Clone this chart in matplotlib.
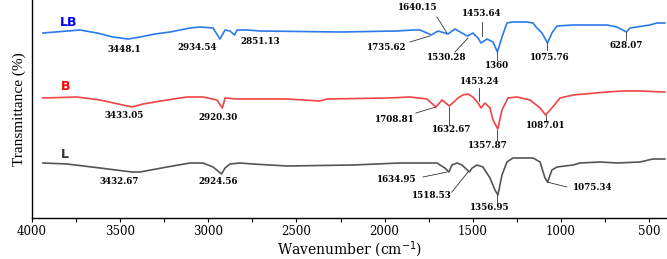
import numpy as np
import matplotlib
matplotlib.use("Agg")
import matplotlib.pyplot as plt

# ── spectra (wavenumber, offset transmittance in a.u.) ─────────────
lb_wn = [3938, 3728, 3631, 3541, 3455, 3387, 3302, 3217, 3104, 3047, 2973, 2934,
         2905, 2877, 2851, 2837, 2780, 2707, 2253, 1930, 1839, 1799, 1760, 1735,
         1697, 1640, 1601, 1561, 1530, 1499, 1470, 1453, 1419, 1385, 1360, 1334,
         1306, 1277, 1192, 1158, 1136, 1107, 1076, 1051, 1022, 931, 739, 682,
         628, 608, 495, 455, 410]
lb_t = [185, 188, 185, 181, 179, 181, 184, 186, 190, 191, 190, 179,
        188, 187, 183, 188, 188, 187, 186, 187, 188, 188, 185, 183,
        187, 184, 189, 185, 182, 185, 180, 175, 179, 176, 166, 181,
        195, 196, 196, 195, 190, 185, 175, 185, 192, 193, 193, 191,
        186, 190, 193, 195, 195]

b_wn = [3938, 3745, 3614, 3433, 3370, 3234, 3121, 3030, 2951, 2920, 2905, 2837,
        2747, 2554, 2367, 2327, 1986, 1856, 1760, 1709, 1674, 1633, 1601, 1584,
        1555, 1527, 1499, 1470, 1453, 1431, 1402, 1385, 1358, 1334, 1300, 1249,
        1175, 1118, 1087, 1051, 1005, 931, 739, 648, 551, 410]
b_t = [120, 121, 118, 111, 114, 118, 121, 121, 118, 110, 120, 119,
       119, 119, 117, 119, 120, 121, 119, 111, 118, 112, 117, 120,
       123, 124, 121, 115, 110, 115, 110, 98, 89, 108, 120, 121,
       118, 110, 103, 110, 120, 123, 126, 127, 127, 126]

l_wn = [3938, 3801, 3614, 3433, 3387, 3234, 3104, 3030, 2973, 2925, 2905, 2877,
        2820, 2747, 2554, 2179, 1913, 1703, 1658, 1635, 1618, 1589, 1561, 1519,
        1503, 1476, 1442, 1402, 1374, 1357, 1334, 1306, 1272, 1158, 1118, 1090,
        1075, 1051, 1022, 931, 892, 778, 682, 551, 478, 410]
l_t = [55, 54, 50, 46, 46, 51, 55, 55, 51, 44, 50, 54,
       55, 54, 52, 53, 55, 55, 50, 46, 53, 55, 53, 46,
       50, 53, 51, 40, 28, 23, 43, 56, 60, 60, 56, 40,
       36, 48, 51, 53, 55, 56, 55, 56, 59, 59]

series = [("LB", lb_wn, lb_t, "#2b7ae8", "#0000ff"),
          ("B", b_wn, b_t, "#f04444", "#ff0000"),
          ("L", l_wn, l_t, "#555555", "#333333")]

# series name label positions (wavenumber, y)
name_pos = {"LB": (3790, 196), "B": (3810, 132), "L": (3815, 63)}

# peak labels: text, text x, text y, leader line (x0, y0, x1, y1) or None
peaks = [
    ("3448.1", 3478, 168, None),
    ("2934.54", 3064, 170, None),
    ("2851.13", 2707, 176, None),
    ("1735.62", 1986, 171, (1856, 176, 1743, 182)),
    ("1640.15", 1811, 210, (1703, 201, 1646, 185)),
    ("1530.28", 1646, 161, (1601, 166, 1527, 180)),
    ("1453.64", 1448, 204, (1448, 196, 1448, 182)),
    ("1360", 1362, 152, (1362, 166, 1362, 158)),
    ("1075.76", 1062, 160, (1079, 175, 1079, 168)),
    ("628.07", 631, 173, (631, 186, 631, 178)),
    ("3433.05", 3478, 103, None),
    ("2920.30", 2945, 101, None),
    ("1708.81", 1941, 98, (1822, 105, 1709, 111)),
    ("1632.67", 1618, 88, (1635, 111, 1635, 93)),
    ("1453.24", 1459, 137, (1465, 130, 1465, 117)),
    ("1357.87", 1414, 73, (1362, 88, 1362, 78)),
    ("1087.01", 1085, 92, (1085, 103, 1085, 97)),
    ("3432.67", 3507, 37, None),
    ("2924.56", 2945, 36, None),
    ("1634.95", 1930, 38, (1782, 41, 1646, 46)),
    ("1518.53", 1731, 23, (1618, 26, 1527, 46)),
    ("1356.95", 1402, 10, (1362, 23, 1362, 15)),
    ("1075.34", 818, 30, (1079, 36, 966, 31)),
]

fig = plt.figure(figsize=(6.67, 2.59), dpi=100)
ax = fig.add_axes([32 / 667, 41 / 259, 635 / 667, 218 / 259])

for name, wn, t, c, tc in series:
    ax.plot(wn, t, color=c, lw=1.2)
    px, py = name_pos[name]
    ax.text(px, py, name, color=tc, fontsize=9, fontweight="bold",
            family="DejaVu Sans", ha="center", va="center")

for txt, tx, ty, line in peaks:
    ax.text(tx, ty, txt, fontsize=6.3, fontweight="bold", family="DejaVu Serif",
            ha="center", va="center")
    if line is not None:
        x0, y0, x1, y1 = line
        ax.plot([x0, x1], [y0, y1], color="#333333", lw=0.6)

ax.set_xlim(4000, 398)
ax.set_ylim(0, 218)
ax.set_xticks(np.arange(4000, 499, -500))
ax.set_xticks(np.arange(3750, 399, -500), minor=True)
ax.tick_params(axis="x", which="both", direction="out", length=3, width=0.8,
               labelsize=8.5, pad=2)
for lab in ax.get_xticklabels():
    lab.set_family("DejaVu Serif")
ax.set_yticks([])
ax.spines["top"].set_visible(False)
ax.spines["right"].set_visible(False)
ax.spines["left"].set_linewidth(1.0)
ax.spines["bottom"].set_linewidth(1.0)

ax.set_xlabel("Wavenumber (cm$^{-1}$)", family="DejaVu Serif", fontsize=10,
              labelpad=1)
ax.set_ylabel("Transmittance (%)", family="Liberation Serif", fontsize=11,
              labelpad=4)

fig.savefig("out.png", dpi=100)
